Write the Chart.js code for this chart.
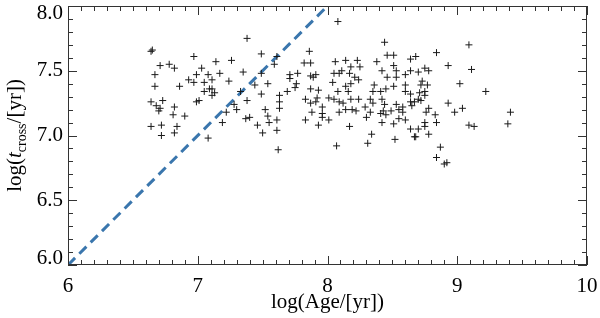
<!DOCTYPE html>
<html>
<head>
<meta charset="utf-8">
<script src="https://cdn.jsdelivr.net/npm/chart.js@4"></script>
<style>
  html, body { margin: 0; padding: 0; background: #fff; }
  #chart { display: block; }
</style>
</head>
<body>
<canvas id="chart" width="600" height="318"></canvas>
<script>
// DATA
const logAge = [
  6.64, 6.65, 6.71, 6.78, 6.82, 6.67, 6.67, 6.86, 6.97, 7.03, 6.99, 6.93, 6.97, 7.05, 7.08, 7.05, 7.09,
  6.99, 7.01, 6.64, 6.73, 6.68, 6.71, 6.70, 6.82, 6.81, 6.90, 6.64, 6.72, 6.84, 6.82, 6.72, 7.08,
  7.38, 7.49, 7.14, 7.26, 7.61, 7.59, 7.17, 7.11, 7.35, 7.49, 7.24, 7.44, 7.54, 7.11, 7.13, 7.11,
  7.33, 7.49, 7.38, 7.28, 7.30, 7.22, 7.52, 7.54, 7.19, 7.37, 7.40, 7.46, 7.55, 7.61, 7.50, 7.61, 7.62,
  8.08, 7.86, 7.82, 7.87, 8.06, 8.14, 7.71, 7.71, 7.77, 7.87, 7.89, 7.91, 8.05, 8.09, 8.11, 7.76,
  7.75, 8.04, 7.69, 7.87, 7.93, 8.08, 8.14, 7.63, 7.63, 7.83, 7.92, 7.87, 7.91, 8.01, 8.05, 8.09,
  8.12, 7.63, 7.96, 7.88, 7.96, 7.96, 8.09, 8.14, 7.83, 8.01, 7.93, 8.07,
  8.44, 8.46, 8.51, 8.23, 8.38, 8.51, 8.64, 8.18, 8.25, 8.17, 8.42, 8.53, 8.21, 8.24, 8.46, 8.53,
  8.60, 8.64, 8.18, 8.36, 8.51, 8.60, 8.16, 8.35, 8.41, 8.45, 8.60, 8.64, 8.18, 8.24, 8.33, 8.42,
  8.35, 8.44, 8.53, 8.58, 8.64, 8.65, 8.19, 8.22, 8.29, 8.33, 8.43, 8.49, 8.55, 8.58, 8.30, 8.41,
  8.45, 8.42, 8.51, 8.55, 8.60, 8.17, 8.64, 8.67, 8.34, 8.52, 8.31,
  9.09, 8.84, 8.68, 8.93, 9.11, 8.75, 8.78, 8.70, 8.73, 8.77, 8.72, 9.02, 8.75, 8.71, 8.75, 8.70,
  8.67, 8.72, 8.93, 8.78, 8.76, 8.83, 8.98, 9.04, 8.75, 8.84, 8.75, 9.09, 9.13, 8.70, 8.68, 8.78,
  8.87, 8.84, 8.90, 8.92,
  9.22, 9.41, 9.39
];
const logTcross = [
  7.65, 7.66, 7.54, 7.55, 7.52, 7.47, 7.38, 7.38, 7.61, 7.52, 7.47, 7.43, 7.41, 7.41, 7.47, 7.34, 7.36,
  7.26, 7.27, 7.26, 7.27, 7.23, 7.21, 7.19, 7.22, 7.16, 7.15, 7.07, 7.08, 7.07, 7.02, 7.00, 6.98,
  7.75, 7.63, 7.57, 7.58, 7.61, 7.55, 7.48, 7.43, 7.49, 7.48, 7.42, 7.39, 7.40, 7.36, 7.33, 7.31,
  7.34, 7.32, 7.27, 7.24, 7.20, 7.18, 7.20, 7.15, 7.10, 7.13, 7.14, 7.08, 7.10, 7.12, 7.02, 7.04, 6.89,
  7.88, 7.65, 7.56, 7.56, 7.57, 7.58, 7.47, 7.44, 7.48, 7.46, 7.45, 7.47, 7.48, 7.48, 7.50, 7.40,
  7.37, 7.41, 7.34, 7.36, 7.35, 7.34, 7.38, 7.31, 7.26, 7.28, 7.29, 7.25, 7.26, 7.29, 7.28, 7.26,
  7.25, 7.21, 7.22, 7.18, 7.17, 7.14, 7.18, 7.20, 7.12, 7.12, 7.08, 6.92,
  7.72, 7.62, 7.62, 7.58, 7.57, 7.54, 7.59, 7.53, 7.53, 7.48, 7.50, 7.50, 7.45, 7.43, 7.45, 7.45,
  7.47, 7.50, 7.40, 7.39, 7.38, 7.39, 7.34, 7.34, 7.34, 7.36, 7.34, 7.32, 7.28, 7.28, 7.28, 7.28,
  7.25, 7.24, 7.24, 7.22, 7.26, 7.23, 7.20, 7.19, 7.22, 7.18, 7.19, 7.19, 7.20, 7.18, 7.14, 7.17,
  7.16, 7.10, 7.09, 7.13, 7.12, 7.07, 7.05, 6.99, 7.01, 6.97, 6.94,
  7.70, 7.64, 7.61, 7.54, 7.51, 7.52, 7.50, 7.49, 7.42, 7.39, 7.39, 7.40, 7.34, 7.33, 7.31, 7.28,
  7.26, 7.27, 7.25, 7.21, 7.18, 7.16, 7.18, 7.21, 7.10, 7.10, 7.07, 7.08, 7.07, 7.05, 6.99, 7.01,
  6.91, 6.83, 6.78, 6.79,
  7.34, 7.18, 7.09
];
// one-to-one reference line
const lineX = [6, 8];
const lineY = [6, 8];

const xTicks = [6, 7, 8, 9, 10];
const yTicks = [6.0, 6.5, 7.0, 7.5, 8.0];

const FONT = "'Liberation Serif', 'DejaVu Serif', serif";

// FRAME + INWARD TICKS + Y LABELS + Y TITLE
const framePlugin = {
  id: "frame",
  afterDraw(chart) {
    const { ctx, chartArea: a, scales: { x, y } } = chart;
    ctx.save();
    ctx.strokeStyle = "#333";
    ctx.lineWidth = 1;
    ctx.strokeRect(a.left + 0.5, a.top + 0.5, a.right - a.left - 1, a.bottom - a.top - 1);

    ctx.beginPath();
    for (let i = 60; i <= 100; i++) {
      const px = Math.round(x.getPixelForValue(i / 10)) + 0.5;
      const len = i % 10 === 0 ? 9 : 5;
      ctx.moveTo(px, a.bottom); ctx.lineTo(px, a.bottom - len);
      ctx.moveTo(px, a.top); ctx.lineTo(px, a.top + len);
    }
    for (let i = 60; i <= 80; i++) {
      const py = Math.round(y.getPixelForValue(i / 10)) + 0.5;
      const len = i % 5 === 0 ? 9 : 5;
      ctx.moveTo(a.left, py); ctx.lineTo(a.left + len, py);
      ctx.moveTo(a.right, py); ctx.lineTo(a.right - len, py);
    }
    ctx.stroke();

    // y tick labels, end labels pulled inside the frame
    ctx.fillStyle = "#000";
    ctx.font = "21px " + FONT;
    ctx.textAlign = "right";
    ctx.textBaseline = "middle";
    yTicks.forEach((v, i) => {
      let py = y.getPixelForValue(v);
      if (i === 0) py -= 7;
      if (i === yTicks.length - 1) py += 7;
      ctx.fillText(v.toFixed(1), a.left - 5, py);
    });

    // y title: log(t_cross/[yr])
    const parts = [
      { t: "log(", f: "21px " + FONT, dy: 0 },
      { t: "t", f: "italic 21px " + FONT, dy: 0 },
      { t: "cross", f: "14px " + FONT, dy: 5 },
      { t: "/[yr])", f: "21px " + FONT, dy: 0 }
    ];
    let total = 0;
    parts.forEach(p => { ctx.font = p.f; p.w = ctx.measureText(p.t).width; total += p.w; });
    ctx.translate(21, (a.top + a.bottom) / 2);
    ctx.rotate(-Math.PI / 2);
    ctx.textAlign = "left";
    ctx.textBaseline = "alphabetic";
    let cx = -total / 2;
    parts.forEach(p => { ctx.font = p.f; ctx.fillText(p.t, cx, p.dy); cx += p.w; });
    ctx.restore();
  }
};

new Chart(document.getElementById("chart"), {
  data: {
    datasets: [
      {
        type: "scatter",
        data: logAge.map((v, i) => ({ x: v, y: logTcross[i] })),
        pointStyle: "cross",
        pointRadius: 3.5,
        borderWidth: 1,
        borderColor: "#1a1a1a",
        backgroundColor: "#1a1a1a"
      },
      {
        type: "line",
        data: lineX.map((v, i) => ({ x: v, y: lineY[i] })),
        borderColor: "#3a76ad",
        borderWidth: 3,
        borderDash: [10, 6],
        pointRadius: 0,
        fill: false
      }
    ]
  },
  options: {
    responsive: false,
    animation: false,
    devicePixelRatio: 1,
    layout: { padding: { top: 6, right: 13, left: 0, bottom: 0 } },
    plugins: { legend: { display: false }, tooltip: { enabled: false } },
    scales: {
      x: {
        type: "linear",
        min: 6, max: 10,
        afterBuildTicks: s => { s.ticks = xTicks.map(v => ({ value: v })); },
        afterFit: s => { s.height = 53; s.paddingLeft = 0; s.paddingRight = 0; },
        grid: { display: false },
        border: { display: false },
        ticks: { color: "#000", font: { family: FONT, size: 21 }, padding: 1, maxRotation: 0 },
        title: { display: true, text: "log(Age/[yr])", color: "#000", font: { family: FONT, size: 21 }, padding: { top: 0, bottom: 3 } }
      },
      y: {
        type: "linear",
        min: 6, max: 8,
        afterBuildTicks: s => { s.ticks = yTicks.map(v => ({ value: v })); },
        afterFit: s => { s.width = 68; s.paddingTop = 0; s.paddingBottom = 0; },
        grid: { display: false },
        border: { display: false },
        ticks: { display: false }
      }
    }
  },
  plugins: [framePlugin]
});
</script>
</body>
</html>
